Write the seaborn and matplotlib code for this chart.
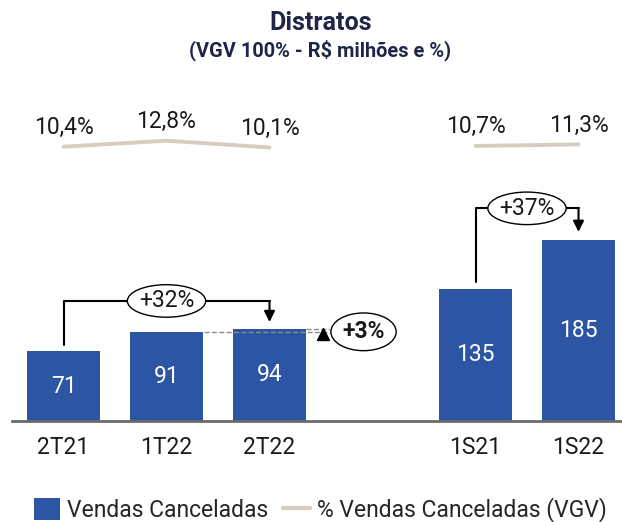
import matplotlib

matplotlib.use("Agg")
import matplotlib.pyplot as plt
import pandas as pd
import seaborn as sns
from matplotlib.lines import Line2D
from matplotlib.patches import Patch

# data
periods = ["2T21", "1T22", "2T22", "1S21", "1S22"]
cancelled = [71, 91, 94, 135, 185]
cancelled_pct = [10.4, 12.8, 10.1, 10.7, 11.3]
period_group = ["tri", "tri", "tri", "sem", "sem"]
pct_labels = ["10,4%", "12,8%", "10,1%", "10,7%", "11,3%"]

BAR_COLOR = "#2c55a3"
LINE_COLOR = "#d6cdc1"
TITLE_COLOR = "#1f2548"
TEXT_COLOR = "#1a1a1a"
FS = 16.5

sns.set_theme(style="white")
plt.rcParams["font.family"] = ["Roboto", "DejaVu Sans"]

df = pd.DataFrame({"period": periods, "value": cancelled, "pct": cancelled_pct, "group": period_group})
order = periods[:3] + [" "] + periods[3:]

fig = plt.figure(figsize=(6.22, 5.22), dpi=100)
ax = fig.add_axes([12 / 622, 101 / 522, 610 / 622, 321 / 522])

sns.barplot(data=df, x="period", y="value", order=order, color=BAR_COLOR, width=0.7,
            saturation=1, edgecolor="none", ax=ax)
ax.set_xlim(-0.5, -0.5 + 610 / 103)
ax.set_ylim(0, 321 / 0.98)
ax.set_xlabel("")
ax.set_ylabel("")
ax.set_yticks([])
for side in ["top", "left", "right"]:
    ax.spines[side].set_visible(False)
ax.spines["bottom"].set_color("#6b6b6b")
ax.spines["bottom"].set_linewidth(2)
ax.tick_params(axis="x", length=0, pad=11, labelsize=FS, labelcolor=TEXT_COLOR)

for cont in ax.containers:
    ax.bar_label(cont, label_type="center", color="white", fontsize=FS)

xpos = {lbl.get_text(): tick for tick, lbl in zip(ax.get_xticks(), ax.get_xticklabels())}
df["x"] = df["period"].map(xpos)
val = dict(zip(periods, cancelled))

# percentage line on a twin axis
ax2 = ax.twinx()
ax2.set_ylim(10.4 - 274.3 / 2.5, 10.4 - 274.3 / 2.5 + 321 / 2.5)
ax2.axis("off")
for _, grp in df.groupby("group", sort=False):
    ax2.plot(grp["x"], grp["pct"], color=LINE_COLOR, lw=2.8, solid_capstyle="round",
             solid_joinstyle="round")
for x, p, lab in zip(df["x"], df["pct"], pct_labels):
    ax2.annotate(lab, xy=(x, p), xytext=(0, 14), textcoords="offset points",
                 ha="center", va="center", fontsize=FS, color=TEXT_COLOR)


def bracket(x0, x1, y0, ytop, ytip, label):
    ax.plot([x0, x0, x1], [y0, ytop, ytop], color="black", lw=1.5, zorder=4)
    ax.annotate("", xy=(x1, ytip), xytext=(x1, ytop),
                arrowprops=dict(arrowstyle="-|>", color="black", lw=1.5,
                                shrinkA=0, shrinkB=0, mutation_scale=16), zorder=4)
    ax.text((x0 + x1) / 2, ytop, label, ha="center", va="center", fontsize=FS, zorder=5,
            color=TEXT_COLOR,
            bbox=dict(boxstyle="ellipse,pad=0.0", fc="white", ec="black", lw=1))


bracket(xpos["2T21"], xpos["2T22"], val["2T21"] + 6.5, val["2T22"] + 28.5, val["2T22"] + 7, "+32%")
bracket(xpos["1S21"], xpos["1S22"], val["1S21"] + 7, val["1S22"] + 32, val["1S22"] + 8, "+37%")

# +3% marker between 1T22 and 2T22
x_end = xpos["2T22"] + 0.573
ax.plot([xpos["1T22"] + 0.36, x_end], [val["1T22"]] * 2, ls="--", color="#8c8c8c", lw=1, zorder=3)
ax.plot([xpos["2T22"] + 0.35, x_end], [val["2T22"]] * 2, ls="--", color="#8c8c8c", lw=1, zorder=3)
ax.plot([xpos["2T22"] + 0.515], [val["2T22"] - 5.7], marker="^", color="black", markersize=8.5, zorder=4)
ax.text(xpos["2T22"] + 0.913, val["1T22"], "+3%", ha="center", va="center", fontsize=FS,
        fontweight="bold", color=TEXT_COLOR, zorder=5,
        bbox=dict(boxstyle="ellipse,pad=0.08", fc="white", ec="black", lw=1))

fig.text(0.515, 1 - 23 / 522, "Distratos", ha="center", va="center", fontsize=18,
         fontweight="bold", color=TITLE_COLOR)
fig.text(0.515, 1 - 50 / 522, "(VGV 100% - R$ milhões e %)", ha="center", va="center",
         fontsize=14.4, fontweight="bold", color=TITLE_COLOR)

handles = [
    Patch(facecolor=BAR_COLOR, edgecolor="none", label="Vendas Canceladas"),
    Line2D([], [], color=LINE_COLOR, lw=3, solid_capstyle="round", label="% Vendas Canceladas (VGV)"),
]
fig.legend(handles=handles, loc="center", bbox_to_anchor=(0.515, 1 - 510 / 522), ncol=2,
           frameon=False, fontsize=FS, handlelength=1.15, handleheight=1.05,
           handletextpad=0.32, columnspacing=0.65, borderpad=0)

fig.savefig("out.png", dpi=100)
